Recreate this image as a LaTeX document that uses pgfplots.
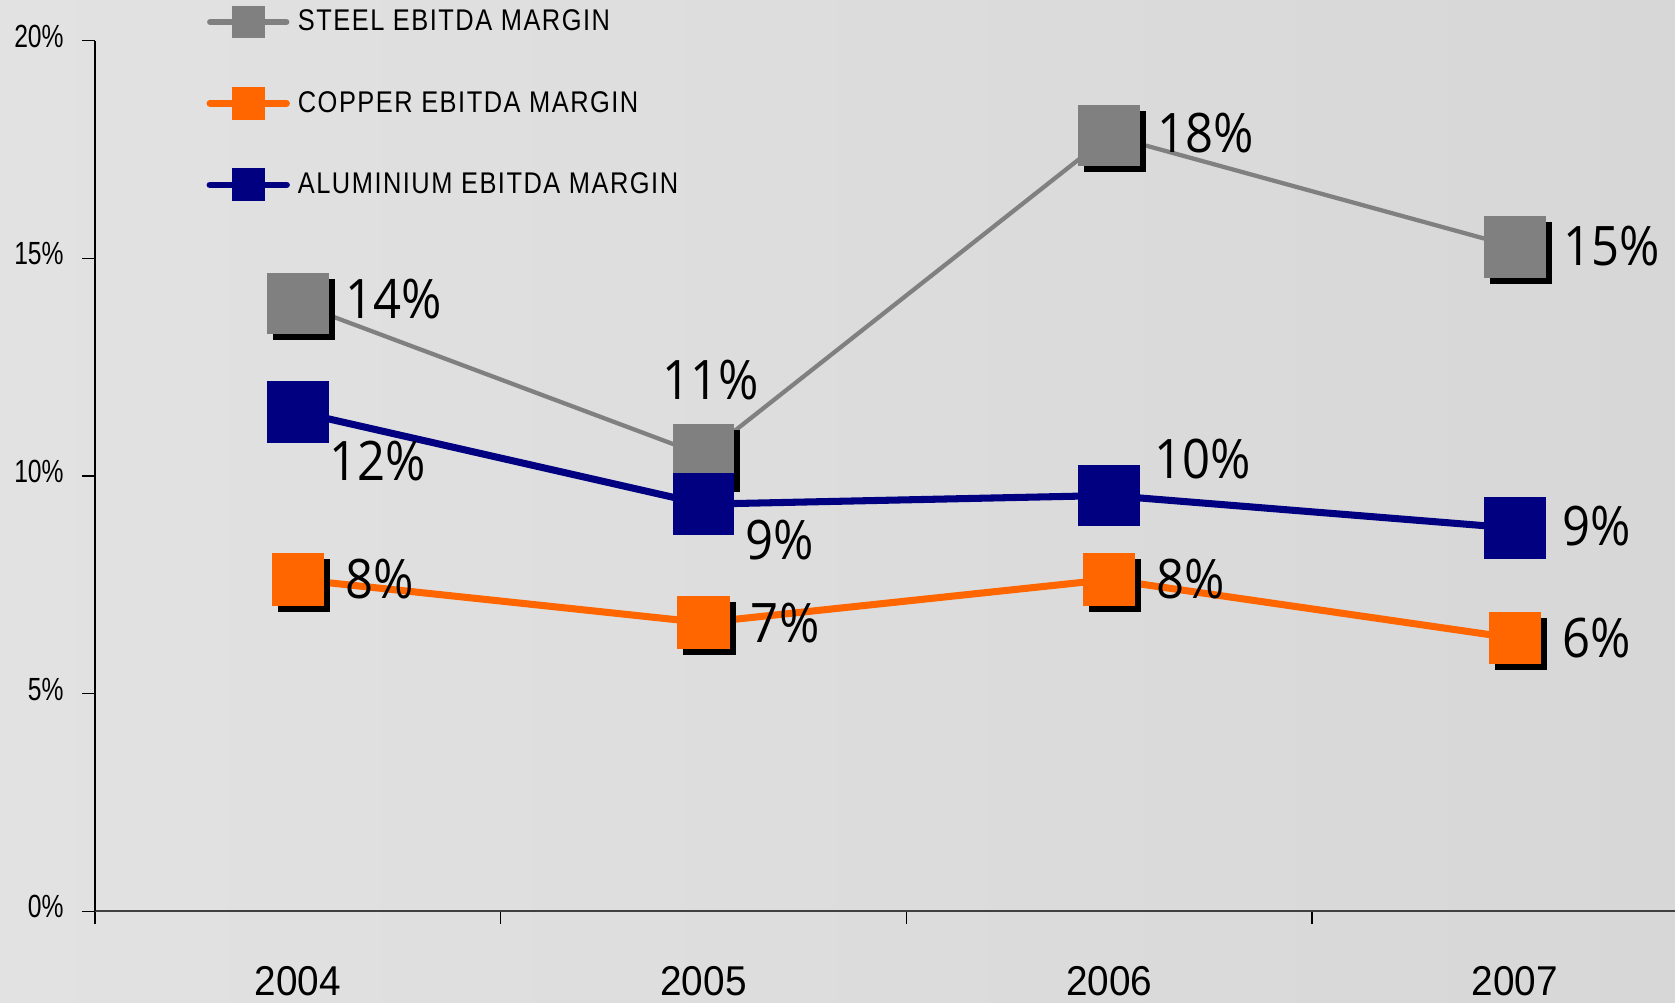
\documentclass[border=0pt]{standalone}
\usepackage{pgfplots}
\usepackage{pgfplotstable}
\pgfplotsset{compat=1.18}
\usepackage{fontspec}
\setmainfont{Liberation Sans}
\newfontfamily\legfont[FakeStretch=0.85,LetterSpace=5]{Liberation Sans}
\newfontfamily\tickfont[FakeStretch=0.77]{Liberation Sans}
\newfontfamily\yearfont[FakeStretch=0.93]{Liberation Sans}
\newfontfamily\labfont[FakeStretch=0.9]{Open Sans}
\definecolor{bgA}{RGB}{227,226,227}
\definecolor{bgB}{RGB}{215,215,215}
\definecolor{steelc}{RGB}{128,128,128}
\definecolor{copperc}{RGB}{255,102,0}
\definecolor{aluc}{RGB}{0,0,128}
\pgfplotstableread{
x steel copper alu
0 13.96 7.62 11.47
1 10.47 6.63 9.35
2 17.82 7.62 9.55
3 15.26 6.27 8.80
}\datatable
\newcommand{\lab}[1]{{\labfont\fontsize{25.5}{25.5}\selectfont #1}}
\begin{document}
\begin{tikzpicture}
\shade[left color=bgA, right color=bgB] (0,0) rectangle (784pt,469pt);
\useasboundingbox (0,0) rectangle (784pt,469pt);
\begin{axis}[
  at={(44.5pt,42.5pt)}, anchor=south west,
  scale only axis, width=739.5pt, height=407.5pt,
  xmin=-0.5, xmax=3.395, ymin=0, ymax=20,
  clip=false,
  axis x line=bottom, axis y line=left,
  x axis line style={-, draw=black!75, line width=1pt},
  y axis line style={-, draw=black, line width=0.6pt},
  tick align=outside,
  major tick length=6pt,
  tick style={draw=black, line width=0.6pt},
  ytick={0,5,10,15,20},
  yticklabel={\pgfmathprintnumber{\tick}\%},
  yticklabel style={font=\tickfont\fontsize{15}{15}\selectfont, /pgf/number format/assume math mode=true, anchor=east, inner sep=0pt, xshift=-8.5pt, yshift=2pt},
  xtick={-0.5,0.5,1.5,2.5},
  xticklabels={},
  extra x ticks={0,1,2,3},
  extra x tick labels={2004,2005,2006,2007},
  extra x tick style={major tick length=0pt, xticklabel style={font=\yearfont\fontsize{19.5}{19.5}\selectfont, anchor=north, inner sep=0pt, yshift=-25.5pt}},
  legend style={at={(axis description cs:0.0703,1.0405)}, anchor=north west, draw=none, fill=none, inner sep=0pt, row sep=22.8pt, font=\legfont\fontsize{14}{14}\selectfont, cells={anchor=west}, /tikz/every odd column/.append style={column sep=1.75pt}},
  legend cell align=left,
  legend image code/.code={\draw[mark repeat=2,mark phase=2,#1] plot coordinates {(0pt,0pt) (18pt,0pt) (36pt,0pt)};},
]
\addlegendimage{steelc, line width=2.5pt, line cap=round, mark=square*, mark size=7.4pt, mark options={line width=0pt}}
\addlegendentry{STEEL EBITDA MARGIN}
\addlegendimage{copperc, line width=3pt, line cap=round, mark=square*, mark size=7.4pt, mark options={line width=0pt}}
\addlegendentry{COPPER EBITDA MARGIN}
\addlegendimage{aluc, line width=3pt, line cap=round, mark=square*, mark size=7.4pt, mark options={line width=0pt}}
\addlegendentry{ALUMINIUM EBITDA MARGIN}
% steel
\addplot[forget plot, only marks, mark=square*, mark size=14.25pt, mark options={black, line width=0pt, xshift=2.8pt, yshift=-2.8pt}] table[x=x,y=steel]{\datatable};
\addplot[forget plot, steelc, line width=2pt, mark=square*, mark size=14.25pt, mark options={line width=0pt}] table[x=x,y=steel]{\datatable};
% copper
\addplot[forget plot, only marks, mark=square*, mark size=12pt, mark options={black, line width=0pt, xshift=2.8pt, yshift=-2.8pt}] table[x=x,y=copper]{\datatable};
\addplot[forget plot, copperc, line width=3.3pt, mark=square*, mark size=12pt, mark options={line width=0pt}] table[x=x,y=copper]{\datatable};
% aluminium
\addplot[forget plot, aluc, line width=3.3pt, mark=square*, mark size=14.25pt, mark options={line width=0pt}] table[x=x,y=alu]{\datatable};
% labels
\node[anchor=west, inner sep=0pt, xshift=22pt, yshift=2pt] at (axis cs:0,13.96) {\lab{14\%}};
\node[anchor=center, inner sep=0pt, xshift=3.5pt, yshift=35.5pt] at (axis cs:1,10.47) {\lab{11\%}};
\node[anchor=west, inner sep=0pt, xshift=22.5pt, yshift=1pt] at (axis cs:2,17.82) {\lab{18\%}};
\node[anchor=west, inner sep=0pt, xshift=22.5pt, yshift=0.5pt] at (axis cs:3,15.26) {\lab{15\%}};
\node[anchor=west, inner sep=0pt, xshift=14.5pt, yshift=-23pt] at (axis cs:0,11.47) {\lab{12\%}};
\node[anchor=west, inner sep=0pt, xshift=19.5pt, yshift=-17pt] at (axis cs:1,9.35) {\lab{9\%}};
\node[anchor=west, inner sep=0pt, xshift=21pt, yshift=17pt] at (axis cs:2,9.55) {\lab{10\%}};
\node[anchor=west, inner sep=0pt, xshift=22pt, yshift=1pt] at (axis cs:3,8.80) {\lab{9\%}};
\node[anchor=west, inner sep=0pt, xshift=22pt] at (axis cs:0,7.62) {\lab{8\%}};
\node[anchor=west, inner sep=0pt, xshift=22pt] at (axis cs:1,6.63) {\lab{7\%}};
\node[anchor=west, inner sep=0pt, xshift=22pt] at (axis cs:2,7.62) {\lab{8\%}};
\node[anchor=west, inner sep=0pt, xshift=22pt] at (axis cs:3,6.27) {\lab{6\%}};
\end{axis}
\end{tikzpicture}
\end{document}
